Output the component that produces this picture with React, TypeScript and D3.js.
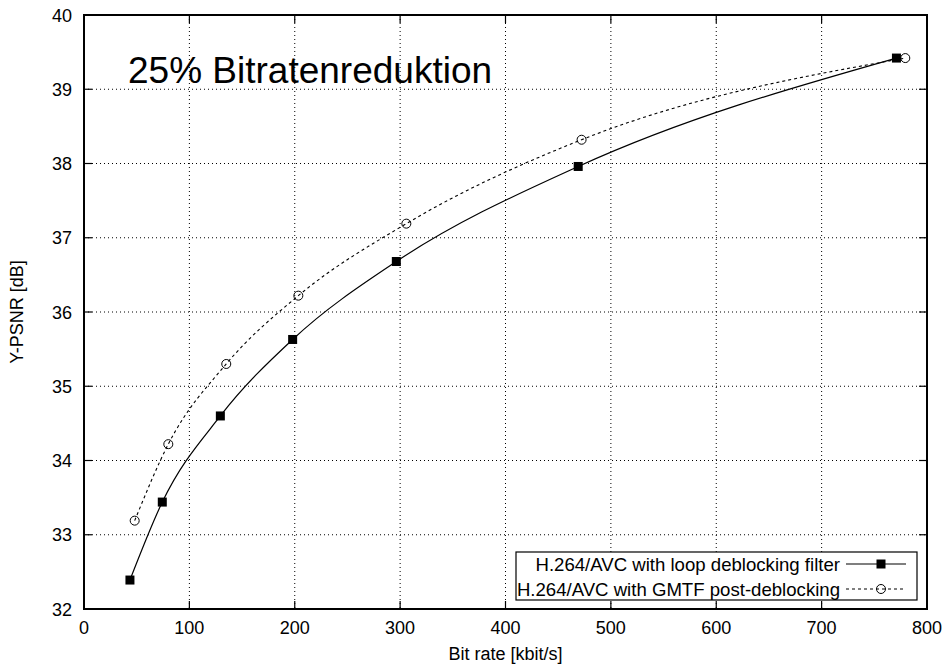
import React from "react";
import * as d3 from "d3";

// Rate–distortion points (bit rate in kbit/s, Y-PSNR in dB)
const loopRate = [43.6, 74.3, 129.4, 198, 296.4, 469, 771];
const loopPsnr = [32.39, 33.44, 34.6, 35.63, 36.68, 37.96, 39.42];
const gmtfRate = [48.1, 80, 135, 203.4, 305.9, 472.2, 779.4];
const gmtfPsnr = [33.19, 34.22, 35.3, 36.22, 37.19, 38.32, 39.42];

const xTicks = [0, 100, 200, 300, 400, 500, 600, 700, 800];
const yTicks = [32, 33, 34, 35, 36, 37, 38, 39, 40];

const seriesNames = [
  "H.264/AVC with loop deblocking filter",
  "H.264/AVC with GMTF post-deblocking",
];
const title = "25% Bitratenreduktion";

const W = 949;
const H = 666;
const left = 84;
const right = 927;
const top = 15;
const bottom = 609;
const font = "'Liberation Sans', Arial, Helvetica, sans-serif";

export default function App() {
  const x = d3.scaleLinear().domain([0, 800]).range([left, right]);
  const y = d3.scaleLinear().domain([32, 40]).range([bottom, top]);

  const line = d3
    .line<[number, number]>()
    .x((d) => x(d[0]))
    .y((d) => y(d[1]))
    .curve(d3.curveMonotoneX);

  const loopPts: [number, number][] = loopRate.map((r, i) => [r, loopPsnr[i]]);
  const gmtfPts: [number, number][] = gmtfRate.map((r, i) => [r, gmtfPsnr[i]]);

  const sq = 9;
  const cr = 4.5;
  const tickLen = 8;

  // legend geometry
  const lgX0 = 516;
  const lgX1 = 917;
  const lgY0 = 552;
  const lgY1 = 600;
  const rowY = [564, 589];
  const sampleX0 = 846;
  const sampleX1 = 906;
  const sampleMid = 881;

  return (
    <svg
      width={W}
      height={H}
      style={{ position: "absolute", left: 0, top: 0, background: "#fff" }}
      fontFamily={font}
    >
      <rect x={0} y={0} width={W} height={H} fill="#fff" />

      {/* grid */}
      <g stroke="#000" strokeWidth={1} strokeDasharray="1,3">
        {xTicks.slice(1, -1).map((t) => (
          <line key={"gx" + t} x1={x(t)} x2={x(t)} y1={top} y2={bottom} />
        ))}
        {yTicks.slice(1, -1).map((t) => (
          <line key={"gy" + t} x1={left} x2={right} y1={y(t)} y2={y(t)} />
        ))}
      </g>

      {/* tick marks on all four sides */}
      <g stroke="#000" strokeWidth={1.2}>
        {xTicks.map((t) => (
          <g key={"tx" + t}>
            <line x1={x(t)} x2={x(t)} y1={bottom} y2={bottom - tickLen} />
            <line x1={x(t)} x2={x(t)} y1={top} y2={top + tickLen} />
          </g>
        ))}
        {yTicks.map((t) => (
          <g key={"ty" + t}>
            <line x1={left} x2={left + tickLen} y1={y(t)} y2={y(t)} />
            <line x1={right} x2={right - tickLen} y1={y(t)} y2={y(t)} />
          </g>
        ))}
      </g>

      {/* tick labels */}
      <g fontSize={18} fill="#000">
        {xTicks.map((t) => (
          <text key={"lx" + t} x={x(t)} y={634} textAnchor="middle">
            {t}
          </text>
        ))}
        {yTicks.map((t) => (
          <text key={"ly" + t} x={72} y={y(t) + 6.5} textAnchor="end">
            {t}
          </text>
        ))}
      </g>

      {/* axis titles */}
      <text x={(left + right) / 2} y={660} textAnchor="middle" fontSize={18}>
        Bit rate [kbit/s]
      </text>
      <text
        transform={`translate(23, ${(top + bottom) / 2}) rotate(-90)`}
        textAnchor="middle"
        fontSize={18}
      >
        Y-PSNR [dB]
      </text>

      {/* chart title inside plot */}
      <text x={128} y={83} fontSize={37}>
        {title}
      </text>

      {/* series lines */}
      <path d={line(loopPts) || ""} fill="none" stroke="#000" strokeWidth={1.2} />
      <path
        d={line(gmtfPts) || ""}
        fill="none"
        stroke="#000"
        strokeWidth={1.1}
        strokeDasharray="3,3"
      />

      {/* markers */}
      {loopPts.map((d, i) => (
        <rect
          key={"sq" + i}
          x={x(d[0]) - sq / 2}
          y={y(d[1]) - sq / 2}
          width={sq}
          height={sq}
          fill="#000"
        />
      ))}
      {gmtfPts.map((d, i) => (
        <circle
          key={"c" + i}
          cx={x(d[0])}
          cy={y(d[1])}
          r={cr}
          fill="none"
          stroke="#000"
          strokeWidth={1}
        />
      ))}

      {/* legend */}
      <rect
        x={lgX0}
        y={lgY0}
        width={lgX1 - lgX0}
        height={lgY1 - lgY0}
        fill="#fff"
        stroke="#000"
        strokeWidth={1.2}
      />
      <g fontSize={18.6}>
        <text x={840} y={rowY[0] + 6.5} textAnchor="end">
          {seriesNames[0]}
        </text>
        <text x={840} y={rowY[1] + 6.5} textAnchor="end">
          {seriesNames[1]}
        </text>
      </g>
      <line x1={sampleX0} x2={sampleX1} y1={rowY[0]} y2={rowY[0]} stroke="#000" strokeWidth={1.2} />
      <rect x={sampleMid - sq / 2} y={rowY[0] - sq / 2} width={sq} height={sq} fill="#000" />
      <line
        x1={sampleX0}
        x2={sampleX1}
        y1={rowY[1]}
        y2={rowY[1]}
        stroke="#000"
        strokeWidth={1.1}
        strokeDasharray="3,3"
      />
      <circle cx={sampleMid} cy={rowY[1]} r={cr} fill="none" stroke="#000" strokeWidth={1} />

      {/* plot frame */}
      <rect
        x={left}
        y={top}
        width={right - left}
        height={bottom - top}
        fill="none"
        stroke="#000"
        strokeWidth={2}
      />
    </svg>
  );
}
